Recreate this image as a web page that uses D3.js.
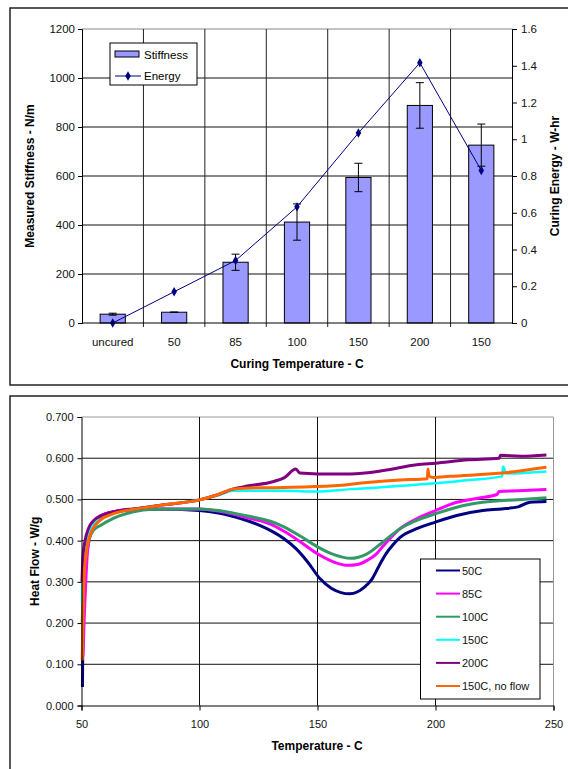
<!DOCTYPE html>
<html>
<head>
<meta charset="utf-8">
<script src="https://cdn.jsdelivr.net/npm/d3@7"></script>
<style>
  body { margin: 0; background: #fff; }
  svg { display: block; font-family: "Liberation Sans", Arial, sans-serif; }
</style>
</head>
<body>
<svg id="chart" width="568" height="769"></svg>
<script>
// ---- top chart data
var categories = ["uncured", "50", "85", "100", "150", "200", "150 "];
var stiffness = [36, 44, 248, 412, 594, 888, 726];
var stiffnessErr = [4, 1, 33, 74, 58, 93, 86];
var energy = [0, 0.17, 0.34, 0.632, 1.034, 1.416, 0.83];
var stiffTicks = [0, 200, 400, 600, 800, 1000, 1200];
var energyTicks = [0, 0.2, 0.4, 0.6, 0.8, 1, 1.2, 1.4, 1.6];

// ---- bottom chart data, [temperature, heat flow]
var seriesNames = ["50C", "85C", "100C", "150C", "200C", "150C, no flow"];
var seriesColors = ["#000080", "#ff00ff", "#339966", "#00ffff", "#800080", "#ff6600"];
var flow50 = [[50.4,0.045],[50.5,0.11],[50.8,0.25],[51.5,0.33],[52.5,0.38],[54,0.42],[56,0.445],[58,0.458],[62,0.468],[68,0.473],[75,0.476],[85,0.476],[100,0.473],[108,0.467],[114,0.459],[121,0.447],[126,0.436],[131,0.422],[136,0.404],[141,0.38],[146,0.347],[151,0.308],[156,0.284],[160,0.274],[163.5,0.271],[167,0.276],[170,0.288],[173,0.306],[176,0.338],[179,0.368],[182,0.39],[185,0.408],[192,0.429],[200,0.445],[209,0.461],[220,0.473],[228,0.477],[235,0.482],[240,0.493],[247,0.495]];
var flow85 = [[50.6,0.12],[51.2,0.22],[51.8,0.30],[52.5,0.37],[53.5,0.41],[55,0.44],[57,0.455],[60,0.465],[65,0.472],[72,0.476],[85,0.477],[100,0.477],[108,0.472],[114,0.465],[121,0.455],[126,0.448],[130,0.44],[136,0.422],[143,0.396],[150,0.368],[157,0.348],[163,0.340],[167,0.342],[171,0.352],[175,0.368],[178,0.388],[185,0.429],[192,0.453],[200,0.473],[209,0.493],[218,0.503],[226,0.512],[227,0.519],[235,0.521],[247,0.524]];
var flow100 = [[50.3,0.2],[50.8,0.30],[51.5,0.36],[53,0.40],[55,0.425],[58,0.437],[62,0.45],[66,0.46],[72,0.47],[80,0.476],[100,0.477],[108,0.473],[114,0.467],[121,0.459],[130,0.447],[136,0.433],[143,0.41],[150,0.385],[157,0.366],[164,0.357],[171,0.368],[178,0.398],[185,0.429],[192,0.449],[200,0.465],[209,0.481],[220,0.493],[235,0.4995],[247,0.504]];
var flow150 = [[50.2,0.25],[50.6,0.33],[51.5,0.38],[53,0.42],[55,0.44],[58,0.452],[62,0.463],[67,0.472],[72,0.477],[85,0.487],[100,0.499],[108,0.51],[114,0.521],[121,0.521],[136,0.521],[150,0.519],[164,0.525],[171,0.527],[185,0.533],[200,0.539],[214,0.547],[228.2,0.556],[228.6,0.580],[230,0.563],[247,0.568]];
var flow200 = [[50.2,0.3],[50.6,0.36],[51.5,0.40],[53,0.43],[55,0.448],[58,0.46],[62,0.468],[67,0.474],[72,0.477],[85,0.487],[100,0.499],[108,0.512],[114,0.525],[121,0.533],[131,0.543],[136,0.553],[140.8,0.574],[142.5,0.564],[150,0.562],[164,0.562],[178,0.570],[192,0.584],[200,0.588],[214,0.596],[227,0.600],[227.5,0.607],[236,0.605],[247,0.608]];
var flow150nf = [[50.3,0.11],[50.6,0.2],[51,0.30],[52,0.37],[53.5,0.41],[55,0.43],[58,0.45],[62,0.462],[67,0.471],[72,0.476],[85,0.487],[100,0.499],[108,0.512],[114,0.525],[121,0.528],[136,0.529],[157,0.533],[171,0.541],[185,0.547],[196.5,0.550],[196.8,0.574],[197.3,0.556],[199,0.553],[206,0.556],[228,0.564],[247,0.578]];
var flowSeries = [flow50, flow85, flow100, flow150, flow200, flow150nf];
var tempTicks = [50, 100, 150, 200, 250];
var flowTicks = [0, 0.1, 0.2, 0.3, 0.4, 0.5, 0.6, 0.7];

var svg = d3.select("#chart");

// outer frames
svg.append("rect").attr("x", 10).attr("y", 8).attr("width", 570).attr("height", 377)
  .attr("fill", "none").attr("stroke", "#222").attr("stroke-width", 1.5);
svg.append("rect").attr("x", 10).attr("y", 396).attr("width", 570).attr("height", 400)
  .attr("fill", "none").attr("stroke", "#222").attr("stroke-width", 1.5);

drawTop();
drawBottom();

function drawTop() {
  var left = 82, right = 512, top = 29, bottom = 323;
  var x = d3.scaleBand().domain(categories).range([left, right]).padding(0);
  var y = d3.scaleLinear().domain([0, 1200]).range([bottom, top]);
  var y2 = d3.scaleLinear().domain([0, 1.6]).range([bottom, top]);
  var g = svg.append("g");

  // grid
  g.selectAll(".hg").data(stiffTicks.slice(1)).enter().append("line")
    .attr("x1", left).attr("x2", right)
    .attr("y1", function (d) { return y(d); }).attr("y2", function (d) { return y(d); })
    .attr("stroke", function (d) { return d == 1200 ? "#888" : "#111"; }).attr("stroke-width", 1);
  g.selectAll(".vg").data(categories.slice(1)).enter().append("line")
    .attr("x1", function (d) { return x(d); }).attr("x2", function (d) { return x(d); })
    .attr("y1", top).attr("y2", bottom + 4)
    .attr("stroke", "#222").attr("stroke-width", 1);

  // bars
  var bw = x.bandwidth() * 0.41;
  g.selectAll(".bar").data(stiffness).enter().append("rect")
    .attr("x", function (d, i) { return x(categories[i]) + x.bandwidth() / 2 - bw / 2; })
    .attr("y", function (d) { return y(d); })
    .attr("width", bw)
    .attr("height", function (d) { return bottom - y(d); })
    .attr("fill", "#9999ff").attr("stroke", "#000").attr("stroke-width", 1);

  // error bars
  var eb = g.selectAll(".err").data(stiffness).enter().append("g");
  eb.append("line")
    .attr("x1", function (d, i) { return x(categories[i]) + x.bandwidth() / 2; })
    .attr("x2", function (d, i) { return x(categories[i]) + x.bandwidth() / 2; })
    .attr("y1", function (d, i) { return y(d + stiffnessErr[i]); })
    .attr("y2", function (d, i) { return y(d - stiffnessErr[i]); })
    .attr("stroke", "#000");
  [1, -1].forEach(function (s) {
    eb.append("line")
      .attr("x1", function (d, i) { return x(categories[i]) + x.bandwidth() / 2 - 4; })
      .attr("x2", function (d, i) { return x(categories[i]) + x.bandwidth() / 2 + 4; })
      .attr("y1", function (d, i) { return y(d + s * stiffnessErr[i]); })
      .attr("y2", function (d, i) { return y(d + s * stiffnessErr[i]); })
      .attr("stroke", "#000");
  });

  // energy line
  var line = d3.line()
    .x(function (d, i) { return x(categories[i]) + x.bandwidth() / 2; })
    .y(function (d) { return y2(d); });
  g.append("path").datum(energy).attr("d", line)
    .attr("fill", "none").attr("stroke", "#000080").attr("stroke-width", 1);
  g.selectAll(".mk").data(energy).enter().append("path")
    .attr("d", d3.symbol().type(d3.symbolDiamond).size(26))
    .attr("transform", function (d, i) { return "translate(" + (x(categories[i]) + x.bandwidth() / 2) + "," + y2(d) + ")"; })
    .attr("fill", "#000080");

  // axes
  var ax = d3.axisLeft(y).tickValues(stiffTicks).tickSize(4).tickPadding(3)
    .tickFormat(d3.format("d"));
  var gl = g.append("g").attr("transform", "translate(" + left + ",0)").call(ax);
  var ar = d3.axisRight(y2).tickValues(energyTicks).tickSize(5).tickPadding(4)
    .tickFormat(function (d) { return d3.format("~g")(d); });
  var gr = g.append("g").attr("transform", "translate(" + right + ",0)").call(ar);
  var gb = g.append("g").attr("transform", "translate(0," + bottom + ")");
  gb.append("line").attr("x1", left).attr("x2", right).attr("stroke", "#000");
  gb.selectAll("text").data(categories).enter().append("text")
    .attr("x", function (d) { return x(d) + x.bandwidth() / 2; })
    .attr("y", 23).attr("text-anchor", "middle").text(function (d) { return d.trim(); });
  [gl, gr].forEach(function (a) {
    a.attr("font-family", null);
    a.select(".domain").attr("stroke", "#000");
    a.selectAll("line").attr("stroke", "#000");
  });
  g.selectAll("text").attr("font-size", 11.5).attr("fill", "#111");

  // titles
  g.append("text").attr("transform", "translate(34," + ((top + bottom) / 2) + ") rotate(-90)")
    .attr("text-anchor", "middle").attr("font-size", 12).attr("font-weight", "bold")
    .text("Measured Stiffness - N/m");
  g.append("text").attr("transform", "translate(559," + ((top + bottom) / 2) + ") rotate(-90)")
    .attr("text-anchor", "middle").attr("font-size", 12).attr("font-weight", "bold")
    .text("Curing Energy - W-hr");
  g.append("text").attr("x", 297).attr("y", 368)
    .attr("text-anchor", "middle").attr("font-size", 12).attr("font-weight", "bold")
    .text("Curing Temperature - C");

  // legend
  var lg = g.append("g");
  lg.append("rect").attr("x", 110).attr("y", 43).attr("width", 87).attr("height", 42)
    .attr("fill", "#fff").attr("stroke", "#000");
  lg.append("rect").attr("x", 115).attr("y", 51).attr("width", 24).attr("height", 6)
    .attr("fill", "#9999ff").attr("stroke", "#000");
  lg.append("text").attr("x", 144).attr("y", 59).attr("font-size", 11.5).text("Stiffness");
  lg.append("line").attr("x1", 115).attr("x2", 141).attr("y1", 76).attr("y2", 76)
    .attr("stroke", "#000080");
  lg.append("path").attr("d", d3.symbol().type(d3.symbolDiamond).size(26))
    .attr("transform", "translate(128,76)").attr("fill", "#000080");
  lg.append("text").attr("x", 144).attr("y", 80).attr("font-size", 11.5).text("Energy");
}

function drawBottom() {
  var left = 81.5, right = 553.5, top = 417, bottom = 705.5;
  var x = d3.scaleLinear().domain([50, 250]).range([left, right]);
  var y = d3.scaleLinear().domain([0, 0.7]).range([bottom, top]);
  var g = svg.append("g");

  g.selectAll(".hg").data(flowTicks.slice(1)).enter().append("line")
    .attr("x1", left).attr("x2", right)
    .attr("y1", function (d) { return y(d); }).attr("y2", function (d) { return y(d); })
    .attr("stroke", function (d) { return d >= 0.7 ? "#999" : "#111"; });
  g.selectAll(".vg").data(tempTicks.slice(1)).enter().append("line")
    .attr("x1", function (d) { return x(d); }).attr("x2", function (d) { return x(d); })
    .attr("y1", top).attr("y2", bottom)
    .attr("stroke", function (d) { return d == 250 ? "#999" : "#111"; });

  var line = d3.line()
    .x(function (d) { return x(d[0]); })
    .y(function (d) { return y(d[1]); })
    .curve(d3.curveMonotoneX);
  g.selectAll(".flow").data(flowSeries).enter().append("path")
    .attr("d", line)
    .attr("fill", "none")
    .attr("stroke", function (d, i) { return seriesColors[i]; })
    .attr("stroke-width", function (d, i) { return i == 3 ? 2.5 : 3; })
    .attr("stroke-linejoin", "round");

  var ax = d3.axisLeft(y).tickValues(flowTicks).tickSize(4).tickPadding(4)
    .tickFormat(d3.format(".3f"));
  var gl = g.append("g").attr("transform", "translate(" + left + ",0)").call(ax);
  var bx = d3.axisBottom(x).tickValues(tempTicks).tickSize(5).tickPadding(10);
  var gb = g.append("g").attr("transform", "translate(0," + bottom + ")").call(bx);
  [gl, gb].forEach(function (a) {
    a.attr("font-family", null).attr("font-size", 11);
    a.select(".domain").attr("stroke", "#000");
    a.selectAll("line").attr("stroke", "#000");
    a.selectAll("text").attr("fill", "#111");
  });

  g.append("text").attr("transform", "translate(39," + ((top + bottom) / 2) + ") rotate(-90)")
    .attr("text-anchor", "middle").attr("font-size", 12).attr("font-weight", "bold")
    .text("Heat Flow - W/g");
  g.append("text").attr("x", 317).attr("y", 750)
    .attr("text-anchor", "middle").attr("font-size", 12).attr("font-weight", "bold")
    .text("Temperature - C");

  // legend
  var lg = g.append("g");
  lg.append("rect").attr("x", 420.5).attr("y", 559).attr("width", 119.5).attr("height", 140)
    .attr("fill", "#fff").attr("stroke", "#000");
  var item = lg.selectAll(".it").data(seriesNames).enter().append("g")
    .attr("transform", function (d, i) { return "translate(0," + (570.5 + i * 23.1) + ")"; });
  item.append("line").attr("x1", 436).attr("x2", 460)
    .attr("stroke", function (d, i) { return seriesColors[i]; }).attr("stroke-width", 2);
  item.append("text").attr("x", 462).attr("y", 4).attr("font-size", 11).attr("fill", "#111")
    .text(function (d) { return d; });
}
</script>
</body>
</html>
